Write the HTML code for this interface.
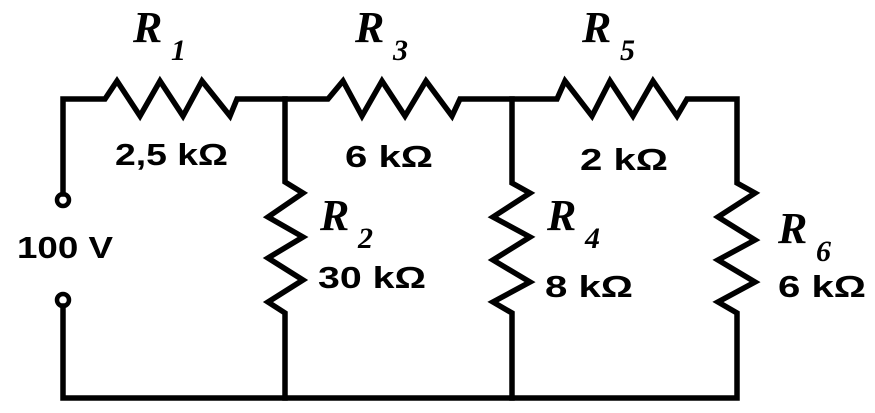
<!DOCTYPE html>
<html><head><meta charset="utf-8"><style>
html,body{margin:0;padding:0;background:#fff;}
svg{display:block;}
.R{font-family:"Liberation Serif",serif;font-weight:bold;font-style:italic;font-size:44px;}
.s{font-family:"Liberation Serif",serif;font-weight:bold;font-style:italic;font-size:30px;}
.v{font-family:"Liberation Sans",sans-serif;font-weight:bold;font-size:31px;}
</style></head><body>
<svg width="875" height="413" viewBox="0 0 875 413" xmlns="http://www.w3.org/2000/svg">
<g fill="none" stroke="#000" stroke-width="5.5" stroke-linejoin="miter" stroke-linecap="square">
<polyline points="63,194 63,99 105,99 117,81 140,116 160,81 183,116 202,81 230,116 237,99 328,99 343,81 362,116 382,81 405,116 426,81 452,116 460,99 557,99 565,81 592,116 610,81 633,116 653,81 677,116 687,99 737,99 737,183 755,193 718,217 755,240 718,260 755,282 718,302 737,313 737,398 63,398 63,306"/>
<polyline points="285,99 285,182 303,193 268,217 303,237 268,258 303,280 268,302 285,313 285,398"/>
<polyline points="512,99 512,183 530,193 493,217 530,237 493,260 530,282 493,302 512,313 512,398"/>
<circle cx="63" cy="200" r="6" stroke-width="4.5"/>
<circle cx="63" cy="300" r="6" stroke-width="4.5"/>
</g>
<g fill="#000">
<text class="R" x="133" y="42">R</text><text class="s" x="171" y="60">1</text>
<text class="R" x="355" y="42">R</text><text class="s" x="393" y="60">3</text>
<text class="R" x="582" y="42">R</text><text class="s" x="620" y="60">5</text>
<text class="R" x="320" y="230">R</text><text class="s" x="358" y="248">2</text>
<text class="R" x="547" y="230">R</text><text class="s" x="585" y="248">4</text>
<text class="R" x="778" y="243">R</text><text class="s" x="816" y="261">6</text>
<text class="v" x="115" y="165" textLength="113" lengthAdjust="spacingAndGlyphs">2,5 kΩ</text>
<text class="v" x="345" y="167" textLength="88" lengthAdjust="spacingAndGlyphs">6 kΩ</text>
<text class="v" x="580" y="170" textLength="88" lengthAdjust="spacingAndGlyphs">2 kΩ</text>
<text class="v" x="17" y="258" textLength="96" lengthAdjust="spacingAndGlyphs">100 V</text>
<text class="v" x="318" y="288" textLength="108" lengthAdjust="spacingAndGlyphs">30 kΩ</text>
<text class="v" x="545" y="297" textLength="88" lengthAdjust="spacingAndGlyphs">8 kΩ</text>
<text class="v" x="778" y="297" textLength="88" lengthAdjust="spacingAndGlyphs">6 kΩ</text>
</g>
</svg>
</body></html>
